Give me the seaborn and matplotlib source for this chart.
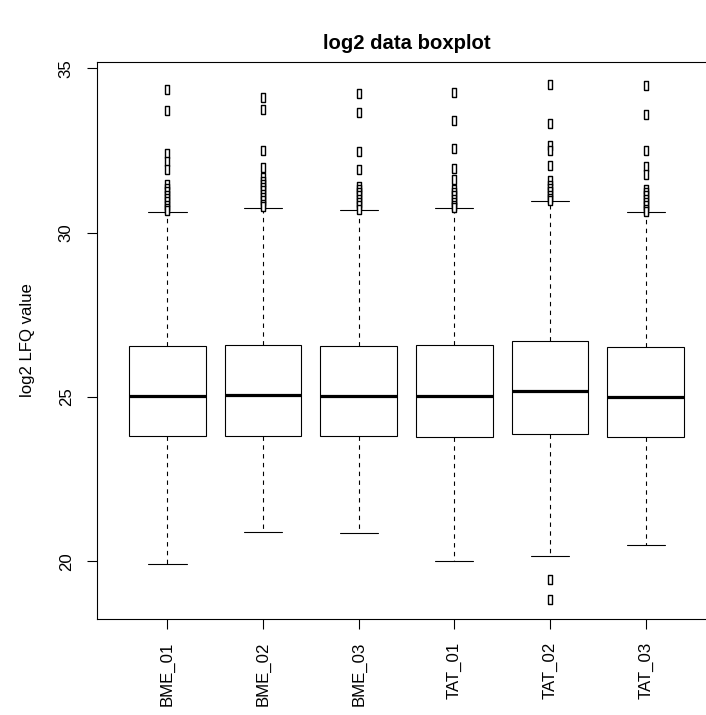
import numpy as np
import pandas as pd
import matplotlib
matplotlib.use("Agg")
import matplotlib.pyplot as plt
import seaborn as sns

# ---- data ----
categories = ["BME_01", "BME_02", "BME_03", "TAT_01", "TAT_02", "TAT_03"]
lower_whisker = [19.92, 20.88, 20.86, 20.02, 20.16, 20.49]
q1 = [23.82, 23.81, 23.82, 23.78, 23.88, 23.77]
median = [25.02, 25.06, 25.04, 25.04, 25.17, 25.00]
q3 = [26.56, 26.59, 26.56, 26.57, 26.71, 26.53]
upper_whisker = [30.62, 30.76, 30.68, 30.75, 30.95, 30.62]

outliers_BME_01 = [34.37, 33.74, 32.42, 32.17, 31.92, 31.49, 31.35, 31.25, 31.15,
                   31.05, 30.95, 30.85, 30.75, 30.68]
outliers_BME_02 = [34.12, 33.77, 32.50, 31.99, 31.69, 31.58, 31.48, 31.38, 31.28,
                   31.18, 31.08, 30.98, 30.88, 30.80]
outliers_BME_03 = [34.25, 33.66, 32.48, 31.93, 31.42, 31.33, 31.23, 31.13, 31.03,
                   30.93, 30.83, 30.73]
outliers_TAT_01 = [34.27, 33.43, 32.57, 31.96, 31.64, 31.33, 31.23, 31.13, 31.03,
                   30.93, 30.83, 30.79]
outliers_TAT_02 = [34.53, 33.33, 32.65, 32.50, 32.06, 31.59, 31.45, 31.35, 31.25,
                   31.15, 31.05, 30.99, 19.46, 18.85]
outliers_TAT_03 = [34.50, 33.61, 32.50, 32.04, 31.79, 31.33, 31.23, 31.13, 31.03,
                   30.93, 30.83, 30.73, 30.67]

yticks = [20, 25, 30, 35]
title = "log2 data boxplot"
ylabel = "log2 LFQ value"

# ---- build tables ----
core_rows = []
for c, a, b, m, d, e in zip(categories, lower_whisker, q1, median, q3, upper_whisker):
    for v in (a, b, m, d, e):
        core_rows.append({"sample": c, "value": v})
core = pd.DataFrame(core_rows)

out_lists = [outliers_BME_01, outliers_BME_02, outliers_BME_03,
             outliers_TAT_01, outliers_TAT_02, outliers_TAT_03]
out_rows = []
for c, lst in zip(categories, out_lists):
    for v in lst:
        out_rows.append({"sample": c, "value": v})
outs = pd.DataFrame(out_rows)

# ---- styling ----
sns.set_theme(style="white")
plt.rcParams["font.family"] = ["Liberation Sans", "DejaVu Sans"]

W, H, DPI = 706, 715, 72
fig = plt.figure(figsize=(W / DPI, H / DPI), dpi=DPI)
left_px, right_px, top_px, bottom_px = 96.7, 716.4, 62.0, 619.0
ax = fig.add_axes([left_px / W, 1 - bottom_px / H,
                   (right_px - left_px) / W, (bottom_px - top_px) / H])

sns.boxplot(data=core, x="sample", y="value", order=categories, ax=ax,
            whis=(0, 100), width=0.8, color="white", linecolor="black",
            linewidth=1.1, showfliers=False,
            medianprops={"linewidth": 3.2, "color": "black"},
            whiskerprops={"linestyle": (0, (4, 4)), "linewidth": 1.1},
            capprops={"linewidth": 1.1})

rect = [(-0.42, -1), (0.42, -1), (0.42, 1), (-0.42, 1), (-0.42, -1)]
sns.stripplot(data=outs, x="sample", y="value", order=categories, ax=ax,
              jitter=False, marker=rect, size=9, color="white",
              edgecolor="black", linewidth=1.4, zorder=5)

ax.set_xlim(-0.74, 5.74)
ax.set_ylim(18.24, 35.19)
ax.set_yticks(yticks)
ax.set_yticklabels([str(t) for t in yticks], rotation=90, va="center")
ax.set_xticks(range(len(categories)))
ax.set_xticklabels(categories, rotation=90)
ax.tick_params(axis="both", which="both", length=10, width=1.1, color="black",
               labelsize=16.8, labelcolor="black", pad=13,
               left=True, bottom=True, direction="out")
ax.set_xlabel("")
ax.set_ylabel(ylabel, fontsize=16.8, color="black", labelpad=24)
ax.set_title(title, fontsize=20.2, fontweight="bold", color="black", pad=13)
for s in ax.spines.values():
    s.set_visible(True)
    s.set_color("black")
    s.set_linewidth(1.1)

fig.savefig("out.png", dpi=DPI, facecolor="white")
